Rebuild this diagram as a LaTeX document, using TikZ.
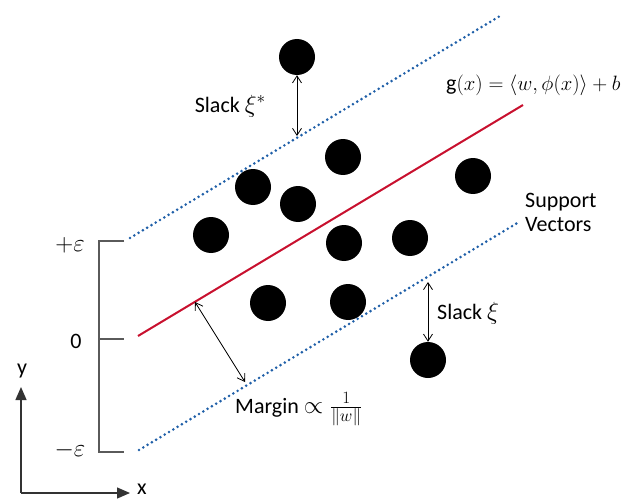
\documentclass[tikz,border=0pt]{standalone}
\usepackage{fontspec}
\setmainfont{Carlito}
\usetikzlibrary{arrows.meta}
\definecolor{svblue}{HTML}{1F5FA8}
\definecolor{svred}{HTML}{C8102E}
\definecolor{axgray}{HTML}{5A5A5A}
\newcommand\Mx[1]{{\fontsize{24}{28}\selectfont$#1$}}
\newcommand\Mg[1]{{\fontsize{21}{25}\selectfont$#1$}}
\tikzset{
  pt/.style={circle,fill=black,inner sep=0pt,minimum size=36pt},
  bound/.style={svblue,line width=2.9pt,line cap=round,dash pattern=on 0pt off 5pt},
  hyper/.style={svred,line width=2pt},
  dim/.style={black,line width=0.8pt,{Straight Barb[length=7pt,width=9pt]}-{Straight Barb[length=7pt,width=9pt]}},
  axis/.style={axgray,line width=1.3pt},
  lbl/.style={font=\fontsize{22}{26}\selectfont,inner sep=0pt},
}
\begin{document}
\begin{tikzpicture}[x=1pt,y=-1pt]
\useasboundingbox (0,0) rectangle (637,500);
% margin lines
\coordinate (u1) at (130,238);
\coordinate (u2) at (500,16);
\coordinate (r1) at (138,336);
\coordinate (r2) at (523,105);
\coordinate (l1) at (139,450);
\coordinate (l2) at (519,222);
\draw[bound] (u1) -- (u2);
\draw[bound] (l1) -- (l2);
\draw[hyper] (r1) -- (r2);
% points
\node[pt] (p1) at (297,57) {};
\node[pt] (p2) at (343,157) {};
\node[pt] (p3) at (253,187) {};
\node[pt] (p4) at (298,204) {};
\node[pt] (p5) at (473,176) {};
\node[pt] (p6) at (211,235) {};
\node[pt] (p7) at (344,243) {};
\node[pt] (p8) at (410,238) {};
\node[pt] (p9) at (268,303) {};
\node[pt] (p10) at (348,302) {};
\node[pt] (p11) at (428,360) {};
% slack arrows
\coordinate (s1) at (297,136);
\draw[dim] (p1.south) -- (s1);
\node[lbl,anchor=east] (t1) at (266,106) {Slack \Mx{\xi^{*}}};
\coordinate (s2) at (428,282);
\draw[dim] (s2) -- (p11.north);
\node[lbl,anchor=west] (t2) at (437,313) {Slack \Mx{\xi}};
% margin arrow
\coordinate (m1) at (195,302);
\coordinate (m2) at (245,382);
\draw[dim] (m1) -- (m2);
\node[lbl,anchor=west] (t3) at (235,409) {Margin \Mx{\propto\frac{1}{\|w\|}}};
% labels
\node[lbl,anchor=west] (g) at (446,85) {g\Mg{(x)=\langle w,\phi(x)\rangle+b}};
\node[lbl,anchor=west,align=left] (sv) at (525,212) {Support\\[-2pt]Vectors};
% bracket
\coordinate (b1) at (99,241);
\coordinate (b2) at (99,339);
\coordinate (b3) at (99,452);
\coordinate (e1) at (124,241);
\coordinate (e2) at (124,339);
\coordinate (e3) at (124,452);
\draw[axis] (e1) -- (b1) -- (b3) -- (e3);
\draw[axis] (b2) -- (e2);
\node[lbl] (pe) at (70,245) {\Mx{+\varepsilon}};
\node[lbl] (z) at (76,341) {0};
\node[lbl] (me) at (70,450) {\Mx{-\varepsilon}};
% axes
\coordinate (o) at (21,493);
\coordinate (ya) at (21,387);
\coordinate (xa) at (130,493);
\draw[axis,-{Triangle[length=13pt,width=11pt]},black!80] (o) -- (ya);
\draw[axis,-{Triangle[length=13pt,width=11pt]},black!80] (o) -- (xa);
\node[lbl] (yl) at (22,371) {y};
\node[lbl] (xl) at (142,489) {x};
\end{tikzpicture}
\end{document}
